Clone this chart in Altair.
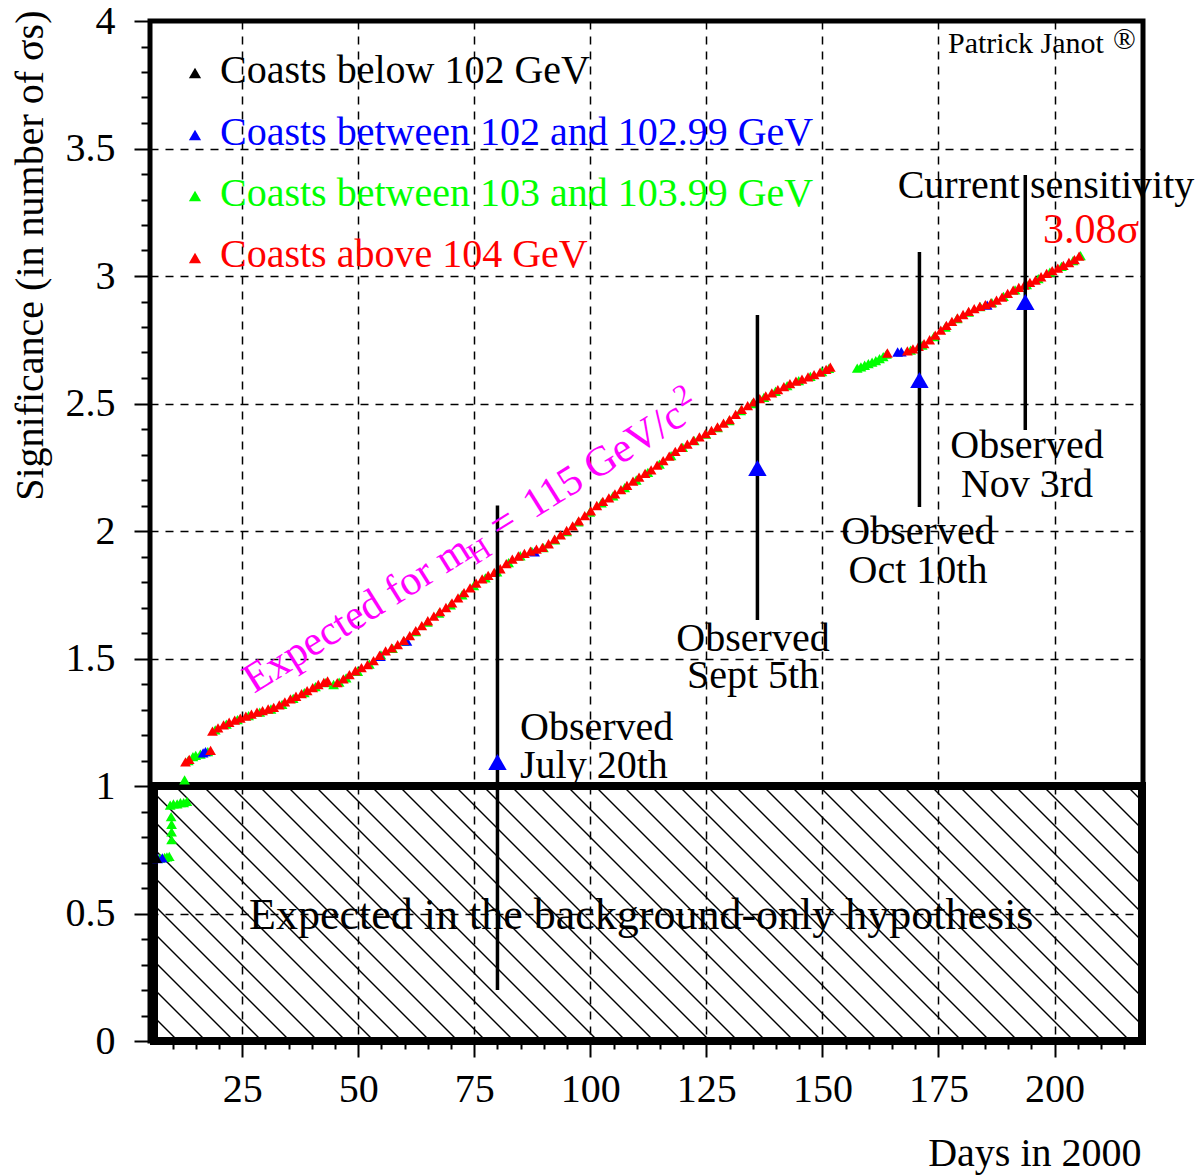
import altair as alt
import pandas as pd

# ------------------------------------------------------------------ data
# (day in 2000, significance)
black_points = [(6.6, 0.716)]

blue_points = [(6.8, 0.715), (7.8, 0.718), (16.6, 1.130), (17.1, 1.135), (54.8, 1.508),
               (60.5, 1.568), (88.0, 1.918), (166.2, 2.702), (167.0, 2.703), (185.5, 2.886)]

green_points = [
    (7.3, 0.717), (8.3, 0.720), (8.8, 0.722), (9.3, 0.724),
    (9.8, 0.79), (9.8, 0.82), (9.8, 0.85), (9.7, 0.88),
    (9.5, 0.925), (10.2, 0.930), (11.0, 0.930), (11.7, 0.935), (12.4, 0.935), (13.1, 0.940),
    (12.6, 1.024),
    (13.4, 1.100), (14.4, 1.115), (15.0, 1.120), (16.0, 1.125), (17.6, 1.135),
    (19.2, 1.220), (21.6, 1.243), (24.0, 1.260), (26.4, 1.276), (28.8, 1.290), (31.2, 1.302),
    (33.6, 1.320), (36.0, 1.344), (38.4, 1.366), (40.8, 1.390), (43.0, 1.405),
    (44.7, 1.398), (45.9, 1.407), (47.4, 1.424), (49.9, 1.450), (52.4, 1.478), (54.9, 1.514),
    (57.4, 1.540), (59.9, 1.568), (62.4, 1.605), (64.9, 1.643), (67.4, 1.678), (69.9, 1.710),
    (72.4, 1.750), (74.9, 1.786), (77.4, 1.816), (79.9, 1.840), (82.4, 1.876), (84.9, 1.903),
    (87.4, 1.920), (89.9, 1.935), (92.4, 1.965), (94.9, 1.998), (97.4, 2.036), (99.9, 2.074),
    (102.4, 2.110), (104.9, 2.138), (107.4, 2.170), (109.9, 2.200), (112.4, 2.230), (114.9, 2.262),
    (117.4, 2.296), (119.9, 2.328), (122.4, 2.354), (124.9, 2.380), (127.4, 2.405), (129.9, 2.433),
    (132.4, 2.472), (134.9, 2.500), (137.4, 2.524), (139.9, 2.548), (142.4, 2.570), (144.9, 2.590),
    (147.4, 2.606), (149.9, 2.625), (151.4, 2.638),
    (157.5, 2.639), (158.3, 2.644), (159.1, 2.650), (159.9, 2.656), (160.7, 2.662), (161.5, 2.668),
    (162.3, 2.676), (163.1, 2.684), (163.8, 2.694),
    (169.0, 2.709), (171.5, 2.729), (174.0, 2.762), (176.5, 2.800), (179.0, 2.833), (181.5, 2.858),
    (184.0, 2.880), (186.5, 2.896), (189.0, 2.920), (191.5, 2.946), (194.0, 2.966), (196.5, 2.990),
    (199.0, 3.015), (201.5, 3.038), (204.0, 3.060), (205.6, 3.080),
]

red_points = [
    (12.8, 1.095), (13.6, 1.104), (18.2, 1.140),
    (18.6, 1.215), (19.8, 1.228), (21.0, 1.240), (22.2, 1.250), (23.4, 1.258), (24.6, 1.266),
    (25.8, 1.274), (27.0, 1.282), (28.2, 1.290), (29.4, 1.296), (30.6, 1.302), (31.8, 1.308),
    (33.0, 1.318), (34.2, 1.330), (35.4, 1.342), (36.6, 1.352), (37.8, 1.362), (39.0, 1.374),
    (40.2, 1.386), (41.4, 1.398), (42.6, 1.406), (43.4, 1.412),
    (45.5, 1.405), (46.8, 1.420), (48.1, 1.437), (49.4, 1.452), (50.7, 1.464), (52.0, 1.476),
    (53.3, 1.492), (54.6, 1.512), (55.9, 1.530), (57.2, 1.542), (58.5, 1.554), (59.8, 1.571),
    (61.1, 1.590), (62.4, 1.609), (63.7, 1.629), (65.0, 1.648), (66.3, 1.666), (67.6, 1.684),
    (68.9, 1.700), (70.2, 1.718), (71.5, 1.738), (72.8, 1.758), (74.1, 1.777), (75.4, 1.796),
    (76.7, 1.812), (78.0, 1.826), (79.3, 1.838), (80.6, 1.852), (81.9, 1.872), (83.2, 1.890),
    (84.5, 1.902), (85.8, 1.912), (87.1, 1.921), (88.4, 1.929), (89.7, 1.936), (91.0, 1.950),
    (92.3, 1.968), (93.6, 1.985), (94.9, 2.002), (96.2, 2.020), (97.5, 2.040), (98.8, 2.060),
    (100.1, 2.079), (101.4, 2.100), (102.7, 2.116), (104.0, 2.130), (105.3, 2.146), (106.6, 2.162),
    (107.9, 2.179), (109.2, 2.196), (110.5, 2.211), (111.8, 2.226), (113.1, 2.240), (114.4, 2.258),
    (115.7, 2.276), (117.0, 2.294), (118.3, 2.312), (119.6, 2.328), (120.9, 2.341), (122.2, 2.355),
    (123.5, 2.369), (124.8, 2.382), (126.1, 2.395), (127.4, 2.408), (128.7, 2.423), (130.0, 2.437),
    (131.3, 2.457), (132.6, 2.477), (133.9, 2.492), (135.2, 2.506), (136.5, 2.519), (137.8, 2.530),
    (139.1, 2.542), (140.4, 2.554), (141.7, 2.566), (143.0, 2.578), (144.3, 2.588), (145.6, 2.596),
    (146.9, 2.604), (148.2, 2.613), (149.5, 2.623), (150.8, 2.634), (151.7, 2.643),
    (164.0, 2.698), (168.3, 2.706), (169.5, 2.714), (170.7, 2.724), (171.9, 2.735), (173.1, 2.750),
    (174.3, 2.768), (175.5, 2.788), (176.7, 2.806), (177.9, 2.822), (179.1, 2.836), (180.3, 2.849),
    (181.5, 2.861), (182.7, 2.872), (183.9, 2.881), (185.1, 2.888), (186.3, 2.895), (187.5, 2.905),
    (188.7, 2.917), (189.9, 2.932), (191.1, 2.945), (192.3, 2.955), (193.5, 2.964), (194.7, 2.975),
    (195.9, 2.984), (197.1, 2.997), (198.3, 3.010), (199.5, 3.021), (200.7, 3.031), (201.9, 3.042),
    (203.1, 3.053), (204.3, 3.064), (205.3, 3.078),
]

obs_days = [80.0, 136.0, 170.9, 193.7]
obs_sig = [1.094, 2.247, 2.592, 2.898]
obs_low = [0.20, 1.651, 2.094, 2.396]
obs_high = [2.10, 2.847, 3.094, 3.396]
obs_dates = ["July 20th", "Sept 5th", "Oct 10th", "Nov 3rd"]

legend_labels = ["Coasts below 102 GeV", "Coasts between 102 and 102.99 GeV",
                 "Coasts between 103 and 103.99 GeV", "Coasts above 104 GeV"]
legend_colors = ["#000000", "#0000ff", "#00ff00", "#ff0000"]

x_major = [25, 50, 75, 100, 125, 150, 175, 200]
x_ticks = list(range(10, 220, 5))
y_major = [0, 0.5, 1, 1.5, 2, 2.5, 3, 3.5, 4]
y_ticks = [round(0.1 * i, 1) for i in range(41)]

# ------------------------------------------------------------------ layout
FONT = "Liberation Serif"
LEFT, TOP = 150, 21
W, H = 993, 1020
XDOM = [5.15, 219.06]
YDOM = [0.0, 4.0]


def px_to_day(px):
    return XDOM[0] + (px - LEFT) * (XDOM[1] - XDOM[0]) / W


def py_to_sig(py):
    return YDOM[1] - (py - TOP) * (YDOM[1] - YDOM[0]) / H


xscale = alt.Scale(domain=XDOM, nice=False, zero=False)
yscale = alt.Scale(domain=YDOM, nice=False, zero=False)

x_major_test = "datum.value % 25 === 0"
y_major_test = "abs(datum.value * 2 - round(datum.value * 2)) < 0.001"

xaxis = alt.Axis(
    values=x_ticks, title="Days in 2000", domain=False,
    labelExpr=f"{x_major_test} ? format(datum.value, 'd') : ''",
    labelFont=FONT, labelFontSize=40, labelColor="black", labelPadding=12,
    labelBaseline="top", labelFlush=False, labelOverlap=False,
    tickColor="black", tickWidth=2,
    tickSize={"condition": {"test": x_major_test, "value": 16}, "value": 8},
    grid=True, gridColor="black", gridWidth=1.5, gridDash=[8, 7],
    gridOpacity={"condition": {"test": x_major_test, "value": 1}, "value": 0},
    titleFont=FONT, titleFontSize=40, titleFontWeight="normal", titleColor="black",
    titleAlign="right", titleBaseline="alphabetic", titleX=991, titleY=124,
)
yaxis = alt.Axis(
    values=y_ticks, title="Significance (in number of σs)", domain=False,
    labelExpr=f"{y_major_test} ? format(datum.value, '~g') : ''",
    labelFont=FONT, labelFontSize=40, labelColor="black", labelPadding=19,
    labelFlush=False, labelOverlap=False,
    tickColor="black", tickWidth=2,
    tickSize={"condition": {"test": y_major_test, "value": 16}, "value": 9},
    grid=True, gridColor="black", gridWidth=1.5, gridDash=[8, 7],
    gridOpacity={"condition": {"test": y_major_test, "value": 1}, "value": 0},
    titleFont=FONT, titleFontSize=40, titleFontWeight="normal", titleColor="black",
    titleAngle=270, titleAlign="right", titleBaseline="middle", titleX=-120, titleY=-11,
)

X = alt.X("day:Q", scale=xscale, axis=xaxis)
Y = alt.Y("sig:Q", scale=yscale, axis=yaxis)

layers = []

# hatched "background only" box
box_px_h = H / (YDOM[1] - YDOM[0])          # pixel height of 1 sigma
px_per_day = W / (XDOM[1] - XDOM[0])
run = box_px_h / px_per_day                 # 45 degree hatch
step = 28 / px_per_day
hatch = []
t = XDOM[0] - run
while t < XDOM[1]:
    hatch.append({"day": t, "sig": 1.0, "day2": t + run, "sig2": 0.0})
    t += step
layers.append(
    alt.Chart(pd.DataFrame(hatch)).mark_rule(color="black", strokeWidth=1.4, clip=True)
    .encode(x=X, y=Y, x2="day2:Q", y2="sig2:Q")
)
layers.append(
    alt.Chart(pd.DataFrame({"sig": [1.0], "sig2": [0.0]})).mark_rect(
        fill=None, fillOpacity=0, stroke="black", strokeWidth=8)
    .encode(x=alt.value(4), x2=alt.value(W - 1), y=Y, y2="sig2:Q")
)

# measurement points
rows = []
for name, pts in [(legend_labels[2], green_points), (legend_labels[1], blue_points),
                  (legend_labels[0], black_points), (legend_labels[3], red_points)]:
    for d, s in pts:
        rows.append({"day": d, "sig": s, "coast": name})
pts_df = pd.DataFrame(rows)
layers.append(
    alt.Chart(pts_df).mark_point(shape="triangle-up", filled=True, size=115, opacity=1)
    .encode(x=X, y=Y, color=alt.Color("coast:N", scale=alt.Scale(domain=legend_labels, range=legend_colors), legend=None))
)

# observed values
obs_df = pd.DataFrame({"day": obs_days, "sig": obs_sig, "lo": obs_low, "hi": obs_high, "date": obs_dates})
layers.append(
    alt.Chart(obs_df).mark_rule(color="black", strokeWidth=3.5)
    .encode(x=X, y=alt.Y("lo:Q", scale=yscale, axis=yaxis), y2="hi:Q")
)
layers.append(
    alt.Chart(obs_df).mark_point(shape="triangle-up", filled=True, size=340, color="#0000ff", opacity=1)
    .encode(x=X, y=Y)
)


def text_layer(text, px, py, size=40, color="black", align="left", baseline="alphabetic",
               angle=None, dx=None, dy=None):
    df = pd.DataFrame({"day": [px_to_day(px)], "sig": [py_to_sig(py)], "t": [text]})
    kw = dict(align=align, baseline=baseline, font=FONT, fontSize=size, color=color)
    if angle is not None:
        kw["angle"] = angle
    if dx is not None:
        kw["dx"] = dx
    if dy is not None:
        kw["dy"] = dy
    return alt.Chart(df).mark_text(**kw).encode(x=X, y=Y, text="t:N")


# legend
legend_marker_py = [73, 135, 196, 258]
legend_text_py = [83, 145, 206, 267]
for lab, col, mpy, tpy in zip(legend_labels, legend_colors, legend_marker_py, legend_text_py):
    layers.append(
        alt.Chart(pd.DataFrame({"day": [px_to_day(195)], "sig": [py_to_sig(mpy)]}))
        .mark_point(shape="triangle-up", filled=True, size=150, color=col, opacity=1)
        .encode(x=X, y=Y)
    )
    layers.append(text_layer(lab, 220, tpy, color=col))

# observed labels
obs_label_pos = [  # (x px, baseline of 'Observed', baseline of date, align)
    (520, 740, 778, "left"),
    (753, 651, 688, "center"),
    (918, 544, 583, "center"),
    (1027, 458, 497, "center"),
]
for date, (px, b1, b2, al) in zip(obs_dates, obs_label_pos):
    layers.append(text_layer("Observed", px, b1, align=al))
    layers.append(text_layer(date, px, b2, align=al))

layers.append(text_layer("Expected in the background-only hypothesis", 249, 929, size=44))
layers.append(text_layer("Current sensitivity", 1046, 198, align="center"))
layers.append(text_layer("3.08σ", 1043, 243, color="#ff0000", size=42))
layers.append(text_layer("Patrick Janot", 948, 53, size=30))
layers.append(text_layer("®", 1113, 49, size=30))

# rotated magenta label, built from pieces along one baseline
MAG = "#ff00ff"
ex, ey = 254, 694
layers.append(text_layer("Expected for m", ex, ey, size=42, color=MAG, angle=328))
layers.append(text_layer("H", ex, ey, size=30, color=MAG, angle=328, dx=256, dy=8))
layers.append(text_layer("=", ex, ey, size=42, color=MAG, angle=328, dx=290))
layers.append(text_layer("115 GeV/c", ex, ey, size=42, color=MAG, angle=328, dx=330))
layers.append(text_layer("2", ex, ey, size=30, color=MAG, angle=328, dx=514, dy=-17))

chart = alt.layer(*layers).properties(
    width=W, height=H,
    autosize=alt.AutoSizeParams(type="none"),
    padding={"left": LEFT, "top": TOP, "right": 1197 - LEFT - W, "bottom": 1175 - TOP - H},
    background="white",
).configure_view(stroke="black", strokeWidth=5)

chart.save("out.html", embed_options={"renderer": "svg", "actions": False})
